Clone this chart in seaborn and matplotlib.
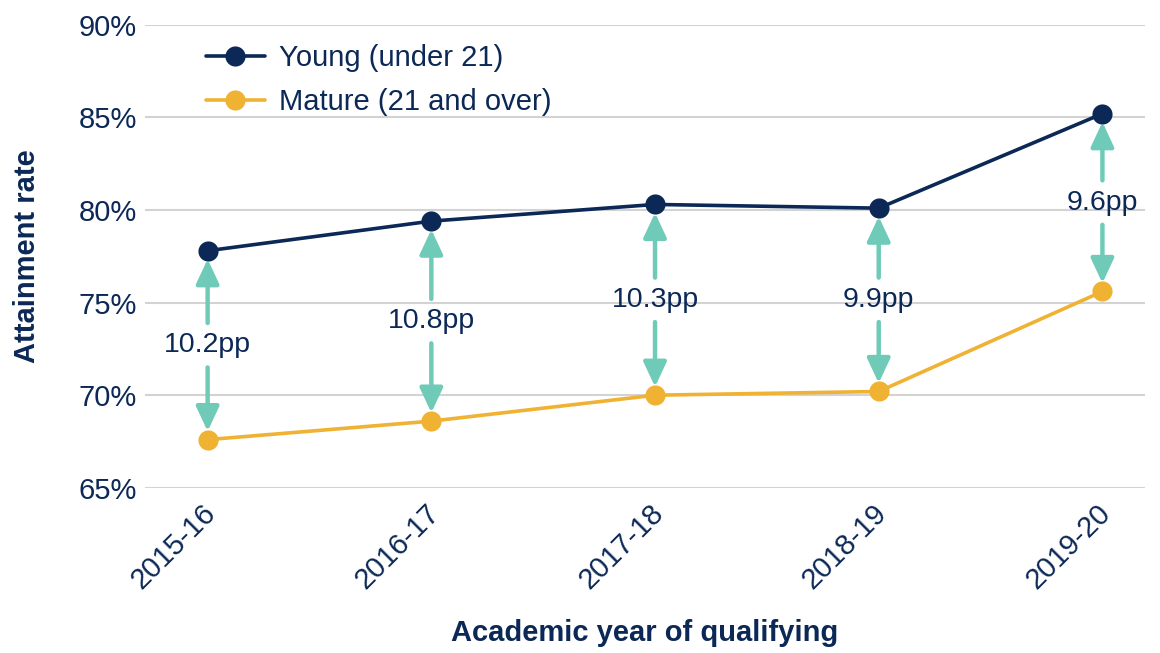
import pandas as pd
import matplotlib.pyplot as plt
import matplotlib.transforms as mtransforms
import seaborn as sns

# chart data
years = ['2015-16', '2016-17', '2017-18', '2018-19', '2019-20']
young = [77.8, 79.4, 80.3, 80.1, 85.2]
mature = [67.6, 68.6, 70.0, 70.2, 75.6]
series_names = ['Young (under 21)', 'Mature (21 and over)']
y_ticks = [65, 70, 75, 80, 85, 90]

navy = '#0b2856'
orange = '#f0b233'
teal = '#6fcbb8'

df = pd.DataFrame({
    'Year': years * 2,
    'Rate': young + mature,
    'Group': [series_names[0]] * len(years) + [series_names[1]] * len(years),
})

sns.set_style("white")
plt.rcParams['font.family'] = ['Liberation Sans', 'DejaVu Sans']

fig = plt.figure(figsize=(11.6, 6.53), dpi=100)
ax = fig.add_axes([0.125, 0.253, 0.862, 0.709])

sns.lineplot(data=df, x='Year', y='Rate', hue='Group', palette=[navy, orange],
             marker='o', markersize=14.5, markeredgewidth=0, linewidth=2.6,
             sort=False, ax=ax, zorder=3)

# gap arrows with labels (gap in the shaft around the text)
arrow_style = '-|>,head_width=0.7,head_length=1.5'
for i in range(len(years)):
    top, bottom = young[i], mature[i]
    mid = (top + bottom) / 2
    ax.annotate('', xy=(i, top - 0.45), xytext=(i, mid + 1.2),
                arrowprops=dict(arrowstyle=arrow_style, color=teal, lw=3.2,
                                shrinkA=0, shrinkB=0), zorder=2)
    ax.annotate('', xy=(i, bottom + 0.45), xytext=(i, mid - 1.2),
                arrowprops=dict(arrowstyle=arrow_style, color=teal, lw=3.2,
                                shrinkA=0, shrinkB=0), zorder=2)
    ax.text(i, mid, f'{top - bottom:.1f}pp', ha='center', va='center',
            fontsize=20.5, color=navy, zorder=4)

ax.set_ylim(65, 90)
ax.set_xlim(-0.28, 4.19)
ax.set_yticks(y_ticks)
ax.set_yticklabels([f'{t}%' for t in y_ticks])
ax.yaxis.grid(True, color='#d3d3d3', linewidth=1.5, zorder=0)
ax.set_axisbelow(True)
for s in ax.spines.values():
    s.set_visible(False)

ax.tick_params(axis='both', colors=navy, labelsize=21, length=0)
ax.tick_params(axis='x', pad=8)
ax.tick_params(axis='y', pad=6)
shift = mtransforms.ScaledTranslation(-6 / 100, 0, fig.dpi_scale_trans)
for lab in ax.get_xticklabels():
    lab.set_rotation(45)
    lab.set_ha('right')
    lab.set_rotation_mode('anchor')
    lab.set_transform(lab.get_transform() + shift)

ax.set_xlabel('Academic year of qualifying', fontsize=21, fontweight='bold',
              color=navy, labelpad=18)
ax.set_ylabel('Attainment rate', fontsize=21, fontweight='bold', color=navy, labelpad=27)

ax.legend(loc='upper left', bbox_to_anchor=(0.035, 1.015), frameon=False,
          fontsize=21, labelcolor=navy, handlelength=2.0, handletextpad=0.5,
          labelspacing=0.55)

fig.savefig('out.png', dpi=100)
